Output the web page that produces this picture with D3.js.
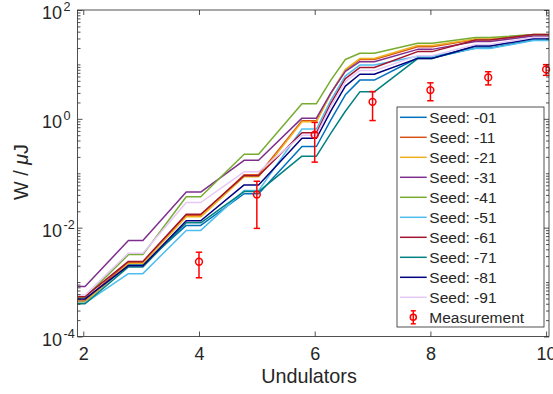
<!DOCTYPE html>
<html>
<head>
<meta charset="utf-8">
<script src="https://cdn.jsdelivr.net/npm/d3@7"></script>
<style>
  body { margin: 0; background: #fff; }
  svg { display: block; }
  text { font-family: "Liberation Sans", Arial, Helvetica, sans-serif; fill: #262626; }
</style>
</head>
<body>
<svg id="chart" width="553" height="394"></svg>
<script>
// Pulse energy along the undulator line for ten SASE seeds, plus measured points.
const undulatorPos = [1.9, 2.03, 2.78, 3.03, 3.78, 4.03, 4.78, 5.03, 5.78, 6.03, 6.28, 6.53, 6.78, 7.03, 7.78, 8.03, 8.78, 9.03, 9.78, 10.03, 10.05];

const seedNames = ["Seed: -01", "Seed: -11", "Seed: -21", "Seed: -31", "Seed: -41",
                   "Seed: -51", "Seed: -61", "Seed: -71", "Seed: -81", "Seed: -91"];
const seedColors = ["#0072BD", "#D95319", "#EDB120", "#7E2F8E", "#77AC30",
                    "#4DBEEE", "#A2142F", "#008080", "#000080", "#E5C8F5"];

// Energy in µJ at each undulator position
const seed01 = [4.4e-4, 4.4e-4, 2.1e-3, 2.1e-3, 1.1e-2, 1.1e-2, 4.2e-2, 4.2e-2, 0.31, 0.31, 0.96, 2.77, 5.15, 5.15, 13.1, 13.1, 20.0, 20.0, 28.1, 28.1, 28.1];
const seed11 = [4.7e-4, 4.7e-4, 2.3e-3, 2.3e-3, 1.69e-2, 1.69e-2, 9.4e-2, 9.4e-2, 0.92, 0.92, 2.94, 7.9, 12.3, 12.3, 21.1, 21.1, 28.6, 28.6, 34.7, 34.7, 34.7];
const seed21 = [4.3e-4, 4.3e-4, 2.2e-3, 2.2e-3, 1.58e-2, 1.58e-2, 8.6e-2, 8.6e-2, 0.88, 0.88, 2.93, 8.13, 12.8, 12.8, 22.2, 22.2, 29.3, 29.3, 34.7, 34.7, 34.7];
const seed31 = [8.3e-4, 8.3e-4, 5.8e-3, 5.8e-3, 4.5e-2, 4.5e-2, 0.173, 0.173, 1.03, 1.03, 3.0, 7.44, 11.2, 11.2, 18.9, 18.9, 26.3, 26.3, 33.2, 33.2, 33.2];
const seed41 = [5.2e-4, 5.2e-4, 3.2e-3, 3.2e-3, 3.7e-2, 3.7e-2, 0.224, 0.224, 1.9, 1.9, 5.15, 12.3, 16.0, 16.0, 24.4, 24.4, 31.2, 31.2, 35.4, 35.4, 35.4];
const seed51 = [4.1e-4, 4.1e-4, 1.43e-3, 1.43e-3, 8.9e-3, 8.9e-3, 4.8e-2, 4.8e-2, 0.65, 0.65, 2.2, 6.15, 9.72, 9.72, 14.1, 14.1, 19.6, 19.6, 27.5, 27.5, 27.5];
const seed61 = [5.4e-4, 5.4e-4, 2.4e-3, 2.4e-3, 1.76e-2, 1.76e-2, 9.0e-2, 9.0e-2, 0.556, 0.556, 1.93, 5.49, 8.75, 8.75, 17.2, 17.2, 28.1, 28.1, 35.4, 35.4, 35.4];
const seed71 = [4.0e-4, 4.0e-4, 1.9e-3, 1.9e-3, 1.23e-2, 1.23e-2, 4.6e-2, 4.6e-2, 0.206, 0.206, 0.547, 1.38, 3.13, 3.13, 12.8, 12.8, 21.8, 21.8, 29.9, 29.9, 29.9];
const seed81 = [4.9e-4, 4.9e-4, 2.0e-3, 2.0e-3, 1.34e-2, 1.34e-2, 6.1e-2, 6.1e-2, 0.44, 0.44, 1.4, 3.99, 6.6, 6.6, 12.9, 12.9, 21.8, 21.8, 29.9, 29.9, 29.9];
const seed91 = [5.8e-4, 5.8e-4, 3.4e-3, 3.4e-3, 2.9e-2, 2.9e-2, 0.106, 0.106, 0.5, 0.5, 1.71, 4.83, 7.7, 7.7, 14.5, 14.5, 23.2, 23.2, 31.2, 31.2, 31.2];
const seedSeries = [seed01, seed11, seed21, seed31, seed41, seed51, seed61, seed71, seed81, seed91];

// Measured energy with error bars
const measUnd = [4, 5, 6, 7, 8, 9, 10];
const measEnergy = [2.37e-3, 0.0405, 0.51, 2.05, 3.37, 5.77, 8.1];
const measErr = [1.17e-3, 0.0308, 0.35, 1.12, 1.22, 1.57, 1.8];

const xTickVals = [2, 4, 6, 8, 10];
const yTickExps = [-4, -2, 0, 2];

const W = 553, H = 394;
const L = 77.5, R = 549, T = 10, B = 336.5;
const ink = "#262626";
const tickFont = 18;

const svg = d3.select("#chart");
svg.append("rect").attr("width", W).attr("height", H).attr("fill", "#fff");

const x = d3.scaleLinear().domain([1.9, 10.05]).range([L, R]);
const y = d3.scaleLog().domain([1e-4, 1e2]).range([B, T]);

svg.append("defs").append("clipPath").attr("id", "plotArea")
  .append("rect").attr("x", L).attr("y", T).attr("width", R - L).attr("height", B - T);

// Seed curves
const line = d3.line().x((d, i) => x(undulatorPos[i])).y(d => y(d));
const curves = svg.append("g").attr("clip-path", "url(#plotArea)");
seedSeries.forEach((s, i) => {
  curves.append("path")
    .attr("d", line(s))
    .attr("fill", "none")
    .attr("stroke", seedColors[i])
    .attr("stroke-width", 1.5)
    .attr("stroke-linejoin", "round");
});

// Measurement markers
const red = "#FF0000";
function errorMarker(g, cx, cy, yTop, yBot, r, cap) {
  g.append("line").attr("x1", cx).attr("x2", cx).attr("y1", yTop).attr("y2", yBot)
    .attr("stroke", red).attr("stroke-width", 1.5);
  [yTop, yBot].forEach(yy => g.append("line")
    .attr("x1", cx - cap).attr("x2", cx + cap).attr("y1", yy).attr("y2", yy)
    .attr("stroke", red).attr("stroke-width", 1.5));
  g.append("circle").attr("cx", cx).attr("cy", cy).attr("r", r)
    .attr("fill", "none").attr("stroke", red).attr("stroke-width", 1.5);
}
const meas = svg.append("g");
measUnd.forEach((u, i) => {
  errorMarker(meas, x(u), y(measEnergy[i]),
    y(measEnergy[i] + measErr[i]), y(measEnergy[i] - measErr[i]), 3.4, 3.2);
});

// Axes: ticks point inward, box drawn on all four sides
function styleAxis(g) {
  g.select(".domain").remove();
  g.selectAll(".tick line").attr("stroke", ink).attr("stroke-width", 0.8);
  g.selectAll(".tick text").attr("fill", ink).attr("font-size", tickFont)
    .attr("font-family", "'Liberation Sans', Arial, sans-serif");
  g.attr("font-family", null).attr("font-size", null);
}

svg.append("g").attr("transform", `translate(0,${B})`)
  .call(d3.axisBottom(x).tickValues(xTickVals).tickSize(-5).tickPadding(11).tickFormat(d3.format("d")))
  .call(styleAxis);
svg.append("g").attr("transform", `translate(0,${T})`)
  .call(d3.axisTop(x).tickValues(xTickVals).tickSize(-5).tickFormat(""))
  .call(styleAxis);

const majorY = yTickExps.map(e => Math.pow(10, e));
const minorY = y.ticks().filter(v => !majorY.some(m => Math.abs(Math.log10(v) - Math.log10(m)) < 1e-9));
svg.append("g").attr("transform", `translate(${L},0)`)
  .call(d3.axisLeft(y).tickValues(majorY).tickSize(-5).tickFormat(""))
  .call(styleAxis);
svg.append("g").attr("transform", `translate(${L},0)`)
  .call(d3.axisLeft(y).tickValues(minorY).tickSize(-3).tickFormat(""))
  .call(styleAxis);
svg.append("g").attr("transform", `translate(${R},0)`)
  .call(d3.axisRight(y).tickValues(majorY).tickSize(-5).tickFormat(""))
  .call(styleAxis);
svg.append("g").attr("transform", `translate(${R},0)`)
  .call(d3.axisRight(y).tickValues(minorY).tickSize(-3).tickFormat(""))
  .call(styleAxis);

svg.append("rect").attr("x", L).attr("y", T).attr("width", R - L).attr("height", B - T)
  .attr("fill", "none").attr("stroke", ink).attr("stroke-width", 0.8);

// Decade labels: base "10" right-aligned, exponent raised after it
yTickExps.forEach(e => {
  const ty = y(Math.pow(10, e));
  svg.append("text").attr("x", 62).attr("y", ty + 9)
    .attr("text-anchor", "end").attr("font-size", tickFont).text("10");
  svg.append("text").attr("x", 63.5).attr("y", ty + 1)
    .attr("font-size", tickFont * 0.7).text(e);
});

// Axis titles
svg.append("text").attr("x", 309).attr("y", 383)
  .attr("text-anchor", "middle").attr("font-size", 19.8).text("Undulators");
const yl = svg.append("text").attr("transform", "translate(28,172) rotate(-90)")
  .attr("text-anchor", "middle").attr("font-size", 19.8);
yl.append("tspan").text("W / ");
yl.append("tspan").attr("font-style", "italic").text("\u03BC");
yl.append("tspan").text("J");

// Legend
const lg = svg.append("g");
const lgX = 397, lgY = 107, lgW = 147, lgH = 220, rowH = 20, row0 = 117.3;
lg.append("rect").attr("x", lgX).attr("y", lgY).attr("width", lgW).attr("height", lgH)
  .attr("fill", "#fff").attr("stroke", ink).attr("stroke-width", 0.8);
seedNames.forEach((name, i) => {
  const ry = row0 + i * rowH;
  lg.append("line").attr("x1", 400).attr("x2", 426.7).attr("y1", ry).attr("y2", ry)
    .attr("stroke", seedColors[i]).attr("stroke-width", 1.5);
  lg.append("text").attr("x", 429.3).attr("y", ry).attr("dy", "0.36em")
    .attr("font-size", 15.5).text(name);
});
const mRow = row0 + seedNames.length * rowH;
errorMarker(lg, 413.3, mRow, mRow - 6.5, mRow + 6.5, 3, 2.5);
lg.append("text").attr("x", 429.3).attr("y", mRow).attr("dy", "0.36em")
  .attr("font-size", 15.5).text("Measurement");
</script>
</body>
</html>
